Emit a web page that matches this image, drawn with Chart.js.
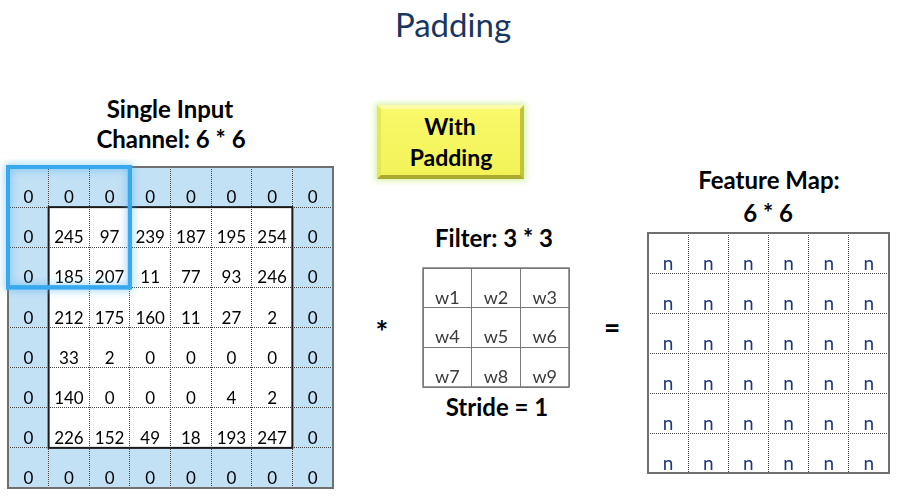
<!DOCTYPE html>
<html>
<head>
<meta charset="utf-8">
<title>Padding</title>
<script src="https://cdn.jsdelivr.net/npm/chart.js@4.4.1/dist/chart.umd.min.js"></script>
<style>
  body { margin: 0; width: 907px; height: 501px; background: #fff; position: relative; overflow: hidden; font-family: Lato, "Open Sans", sans-serif; }
  .txt { position: absolute; line-height: 1; white-space: nowrap; transform: translateX(-50%); color: #000; }
  .bold { font-weight: bold; }
  .box { position: absolute; }
  #withBox {
    position: absolute; left: 377px; top: 105px; width: 139px; height: 66px;
    background: linear-gradient(#f9f96a, #f2f258);
    border-style: solid; border-width: 4px;
    border-color: #fbfba8 #c4c43c #aaaa30 #e6e65a;
    box-shadow: 0 0 6px 2px #d9f2a6;
  }
</style>
</head>
<body>
<div id="withBox"></div>

<div class="box" style="left:0px;top:159px;"><canvas id="inputGrid" width="341" height="337"></canvas></div>
<div class="box" style="left:421px;top:266px;"><canvas id="filterGrid" width="150" height="123"></canvas></div>
<div class="box" style="left:646px;top:231px;"><canvas id="featureGrid" width="245" height="244"></canvas></div>

<script>
// values of the 6*6 input channel
const inputValues = [
  [245, 97, 239, 187, 195, 254],
  [185, 207, 11, 77, 93, 246],
  [212, 175, 160, 11, 27, 2],
  [33, 2, 0, 0, 0, 0],
  [140, 0, 0, 0, 4, 2],
  [226, 152, 49, 18, 193, 247]
];
const padSize = 1;
const padValue = 0;
const filterLabels = [
  ["w1", "w2", "w3"],
  ["w4", "w5", "w6"],
  ["w7", "w8", "w9"]
];
const featureLabels = [
  ["n", "n", "n", "n", "n", "n"],
  ["n", "n", "n", "n", "n", "n"],
  ["n", "n", "n", "n", "n", "n"],
  ["n", "n", "n", "n", "n", "n"],
  ["n", "n", "n", "n", "n", "n"],
  ["n", "n", "n", "n", "n", "n"]
];
// filter window shown on the padded input (row/col start, size)
const windowStart = [0, 0];
const windowSize = 3;

// text labels: [text, centerX, baseline, size, bold, color]
const texts = [
  ["Padding", 453, 37, 33, false, "#17375e"],
  ["Single Input", 170, 118, 24, true, "#000"],
  ["Channel: 6 * 6", 171, 148, 24, true, "#000"],
  ["With", 450, 135, 23, true, "#000"],
  ["Padding", 451, 166, 23, true, "#000"],
  ["Filter: 3 * 3", 494, 247, 24, true, "#000"],
  ["Stride = 1", 497, 416, 24, true, "#000"],
  ["*", 382, 343, 30, true, "#000"],
  ["=", 612, 338, 28, true, "#000"],
  ["Feature Map:", 769, 189, 24, true, "#000"],
  ["6 * 6", 768, 222, 24, true, "#000"]
];

function addTexts() {
  texts.forEach(t => {
    const d = document.createElement("div");
    d.className = "txt" + (t[4] ? " bold" : "");
    d.textContent = t[0];
    d.style.left = t[1] + "px";
    d.style.top = (t[2] - 0.887 * t[3]) + "px";
    d.style.fontSize = t[3] + "px";
    d.style.color = t[5];
    document.body.appendChild(d);
  });
}

function padMatrix(m, p, v) {
  const cols = m[0].length + 2 * p;
  const out = [];
  for (let r = 0; r < m.length + 2 * p; r++) {
    const row = [];
    for (let c = 0; c < cols; c++) {
      const inside = r >= p && r < m.length + p && c >= p && c < m[0].length + p;
      row.push(inside ? m[r - p][c - p] : v);
    }
    out.push(row);
  }
  return out;
}

// draws cell fills, labels and borders using the chart scales
const gridPlugin = {
  id: "gridCells",
  beforeDraw(chart) {
    const o = chart.options.plugins.gridCells;
    if (!o.padFill) return;
    const ctx = chart.ctx, xs = chart.scales.x, ys = chart.scales.y;
    const rows = o.labels.length, cols = o.labels[0].length;
    ctx.save();
    ctx.fillStyle = o.padFill;
    for (let r = 0; r < rows; r++) {
      for (let c = 0; c < cols; c++) {
        const inside = r >= o.pad && r < rows - o.pad && c >= o.pad && c < cols - o.pad;
        if (inside) continue;
        const x0 = xs.getPixelForValue(c), x1 = xs.getPixelForValue(c + 1);
        const y0 = ys.getPixelForValue(r), y1 = ys.getPixelForValue(r + 1);
        ctx.fillRect(x0, y0, x1 - x0, y1 - y0);
      }
    }
    ctx.restore();
  },
  afterDatasetsDraw(chart) {
    const o = chart.options.plugins.gridCells;
    const ctx = chart.ctx, xs = chart.scales.x, ys = chart.scales.y;
    const rows = o.labels.length, cols = o.labels[0].length;
    const meta = chart.getDatasetMeta(0);
    ctx.save();
    ctx.font = o.font;
    ctx.fillStyle = o.color;
    ctx.textAlign = "center";
    ctx.textBaseline = "alphabetic";
    meta.data.forEach((pt, i) => {
      const raw = chart.data.datasets[0].data[i];
      const yb = ys.getPixelForValue(raw.row + 1) - o.baseGap;
      ctx.fillText(String(raw.label), pt.x, yb);
    });

    // outer border
    const left = xs.getPixelForValue(0), right = xs.getPixelForValue(cols);
    const top = ys.getPixelForValue(0), bottom = ys.getPixelForValue(rows);
    ctx.strokeStyle = o.outerColor;
    ctx.lineWidth = o.outerWidth;
    ctx.strokeRect(left, top, right - left, bottom - top);

    // border around the real input
    if (o.pad) {
      const il = xs.getPixelForValue(o.pad), ir = xs.getPixelForValue(cols - o.pad);
      const it = ys.getPixelForValue(o.pad), ib = ys.getPixelForValue(rows - o.pad);
      ctx.strokeStyle = "#1a1a1a";
      ctx.lineWidth = 2;
      ctx.strokeRect(il, it, ir - il, ib - it);
    }

    // filter window highlight
    if (o.window) {
      const [wr, wc] = o.window.start;
      const wl = xs.getPixelForValue(wc), wrt = xs.getPixelForValue(wc + o.window.size);
      const wt = ys.getPixelForValue(wr), wb = ys.getPixelForValue(wr + o.window.size);
      ctx.shadowColor = "rgba(80,180,245,0.9)";
      ctx.shadowBlur = 8;
      ctx.strokeStyle = "#39a9ef";
      ctx.lineWidth = 4;
      ctx.strokeRect(wl, wt, wrt - wl, wb - wt);
      ctx.shadowBlur = 0;
      ctx.strokeRect(wl, wt, wrt - wl, wb - wt);
    }
    ctx.restore();
  }
};

function makeGrid(canvasId, labels, opts) {
  const rows = labels.length, cols = labels[0].length;
  const points = [];
  for (let r = 0; r < rows; r++) {
    for (let c = 0; c < cols; c++) {
      points.push({ x: c + 0.5, y: r + 0.5, row: r, label: labels[r][c] });
    }
  }
  const axis = (max) => ({
    type: "linear",
    min: 0,
    max: max,
    ticks: { display: false, stepSize: 1 },
    grid: { color: opts.lineColor, lineWidth: 1, drawTicks: false },
    border: { display: false, dash: opts.dash }
  });
  const yAxis = axis(rows);
  yAxis.reverse = true;
  return new Chart(document.getElementById(canvasId), {
    type: "scatter",
    data: { datasets: [{ data: points, pointRadius: 0, pointHoverRadius: 0 }] },
    options: {
      responsive: false,
      animation: false,
      events: [],
      layout: { padding: opts.padding, autoPadding: false },
      scales: { x: axis(cols), y: yAxis },
      plugins: {
        legend: { display: false },
        tooltip: { enabled: false },
        gridCells: {
          labels: labels,
          pad: opts.pad || 0,
          padFill: opts.padFill,
          font: opts.font,
          color: opts.color,
          baseGap: opts.baseGap,
          outerColor: opts.outerColor,
          outerWidth: opts.outerWidth,
          window: opts.window
        }
      }
    },
    plugins: [gridPlugin]
  });
}

addTexts();

const paddedInput = padMatrix(inputValues, padSize, padValue);

makeGrid("inputGrid", paddedInput, {
  padding: 8,
  lineColor: "#444",
  dash: [1, 1],
  pad: padSize,
  padFill: "#c3e1f5",
  font: "17px Lato",
  color: "#000",
  baseGap: 4,
  outerColor: "#6f6f6f",
  outerWidth: 2,
  window: { start: windowStart, size: windowSize }
});

makeGrid("filterGrid", filterLabels, {
  padding: 2,
  lineColor: "#7a7a7a",
  dash: [],
  font: "18px Lato",
  color: "#3a3a3a",
  baseGap: 4,
  outerColor: "#7a7a7a",
  outerWidth: 1.5
});

makeGrid("featureGrid", featureLabels, {
  padding: 2,
  lineColor: "#444",
  dash: [1, 1],
  font: "19px Lato",
  color: "#1f3a7a",
  baseGap: 3,
  outerColor: "#6f6f6f",
  outerWidth: 2
});
</script>
</body>
</html>
